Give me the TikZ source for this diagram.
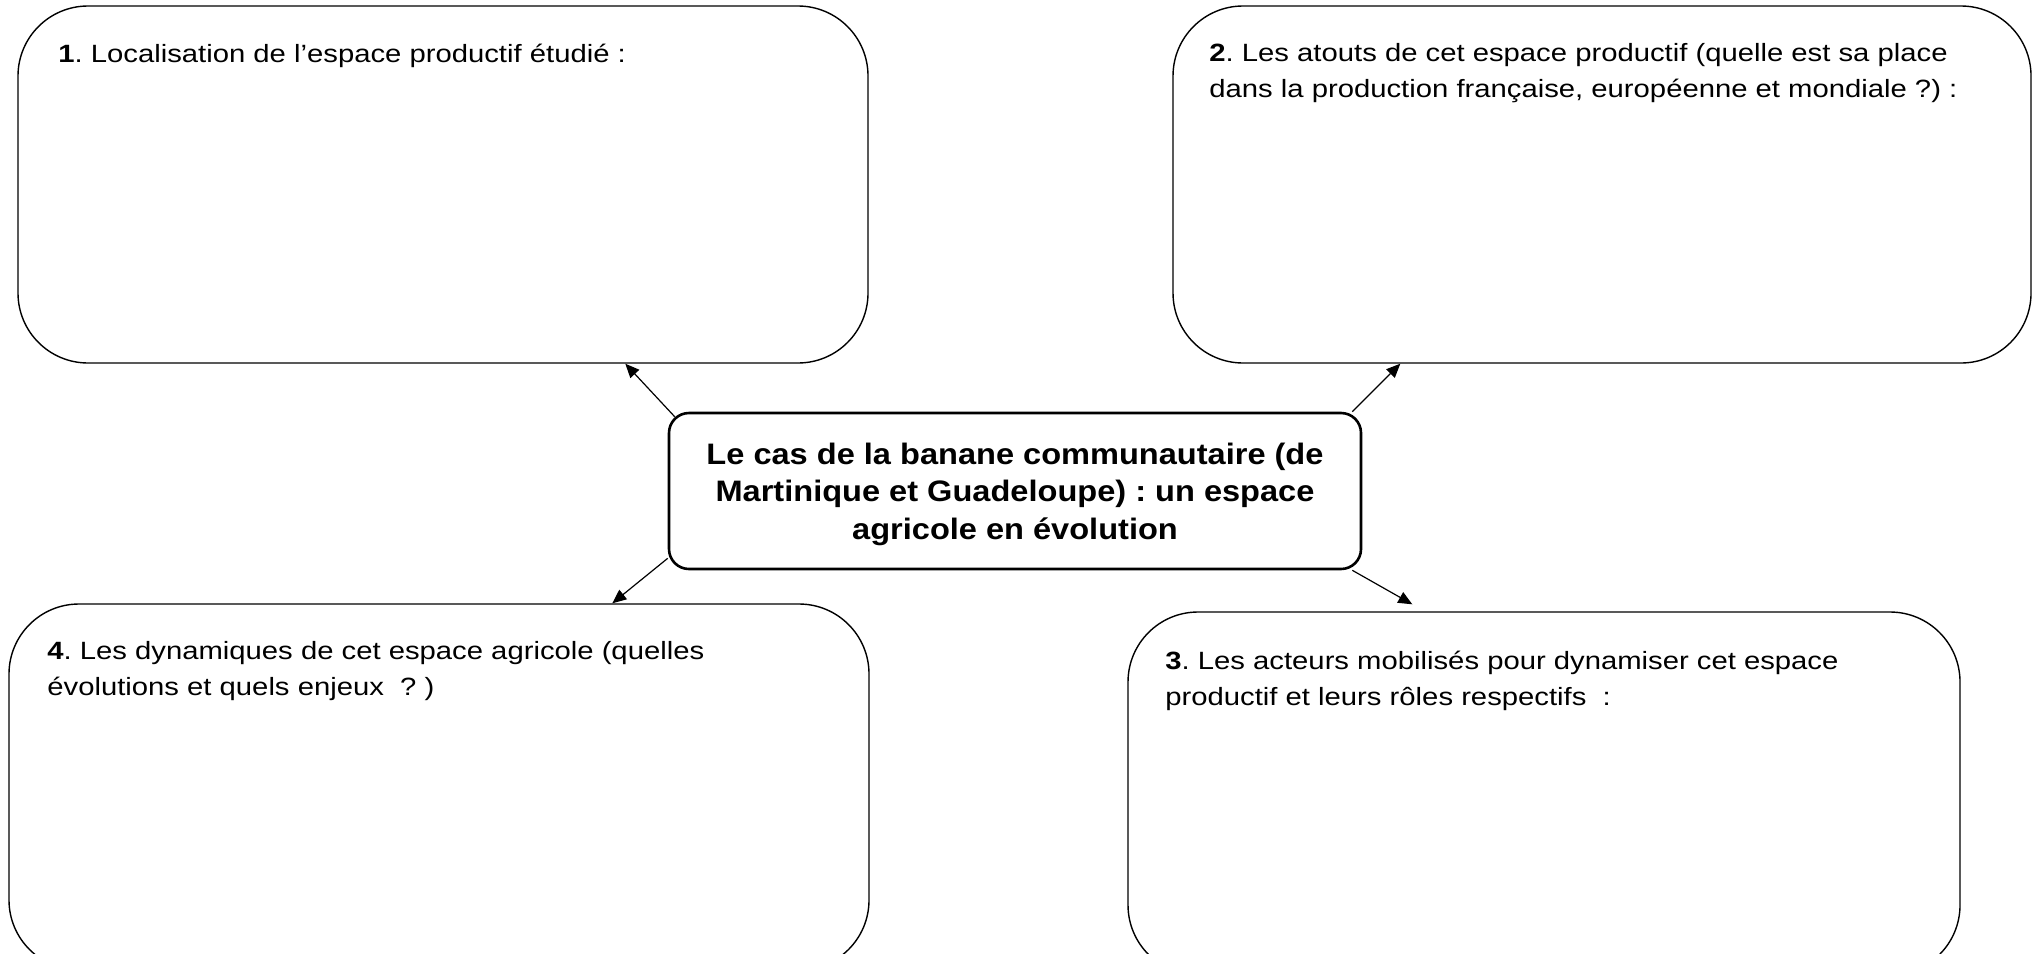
\documentclass[tikz,border=0pt]{standalone}
\usepackage{fontspec}
\setmainfont{Liberation Sans}[FakeStretch=1.1]
\newfontfamily\qfont{Liberation Sans}[FakeStretch=1.17]
\usetikzlibrary{arrows.meta,calc}
\frenchspacing
\begin{document}
\begin{tikzpicture}[x=0.5pt,y=-0.5pt,
  bigbox/.style={draw, line width=0.7pt, rounded corners=35pt, inner sep=0pt},
  ctrbox/.style={draw, line width=1.3pt, rounded corners=10pt, inner sep=0pt},
  ctrtext/.style={anchor=base, inner sep=0pt, font=\fontsize{14.8pt}{18.75pt}\selectfont\bfseries},
  qtext/.style={anchor=base west, inner sep=0pt, font=\qfont\fontsize{12.5pt}{18pt}\selectfont},
  arr/.style={line width=0.6pt, -{Triangle[length=7pt,width=6pt]}}]
\useasboundingbox (0,0) rectangle (2037,953);
\clip (0,0) rectangle (2037,953);
% boxes
\node[bigbox, minimum width=425pt, minimum height=178.5pt] (b1) at (443,184.5) {};
\node[bigbox, minimum width=429pt, minimum height=178.5pt] (b2) at (1602,184.5) {};
\node[bigbox, minimum width=430pt, minimum height=183pt] (b4) at (439,787) {};
\node[bigbox, minimum width=416pt, minimum height=181.5pt] (b3) at (1544,793.5) {};
\node[ctrbox, minimum width=346pt, minimum height=78pt] (c) at (1015,491) {};
\node[ctrtext] (ct) at (1015,464) {\parbox[t]{340pt}{\centering Le cas de la banane communautaire (de\\Martinique et Guadeloupe) : un espace\\agricole en évolution}};
% texts
\node[qtext] (t1) at (58,62) {\textbf{1}. Localisation de l’espace productif étudié :};
\node[qtext] (t2) at (1209,61) {\parbox[t]{420pt}{\textbf{2}. Les atouts de cet espace productif (quelle est sa place\\dans la production française, européenne et mondiale ?) :}};
\node[qtext] (t4) at (47,659) {\parbox[t]{420pt}{\textbf{4}. Les dynamiques de cet espace agricole (quelles\\évolutions et quels enjeux\ \ ? )}};
\node[qtext] (t3) at (1165,669) {\parbox[t]{400pt}{\textbf{3}. Les acteurs mobilisés pour dynamiser cet espace\\productif et leurs rôles respectifs\ \ :}};
% arrows
\draw[arr] ([shift={(7,5)}]c.north west) -- ([shift={(608,0)}]b1.south west);
\draw[arr] ([shift={(-10,0)}]c.north east) -- ([shift={(228,0)}]b2.south west);
\draw[arr] ([shift={(0,-12)}]c.south west) -- ([shift={(604,0)}]b4.north west);
\draw[arr] ([shift={(-10,0)}]c.south east) -- ([shift={(285,-7)}]b3.north west);
\end{tikzpicture}
\end{document}
